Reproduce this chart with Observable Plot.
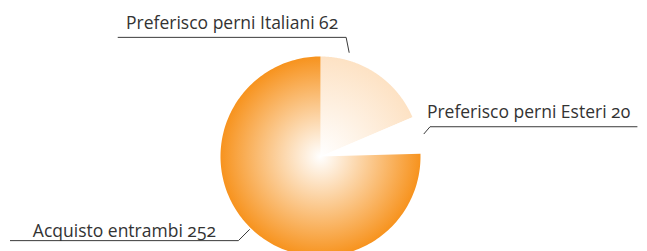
<!DOCTYPE html>
<html><head><meta charset="utf-8">
<script src="https://cdn.jsdelivr.net/npm/d3@7"></script>
<script src="https://cdn.jsdelivr.net/npm/@observablehq/plot@0.6"></script>
<style>body{margin:0;background:#fff}</style>
</head><body><div id="chart"></div>
<script>
// ---- data ----
const categories = ["Preferisco perni Italiani", "Preferisco perni Esteri", "Acquisto entrambi"];
const values = [62, 20, 252];
const edgeColors = ["#fde2c4", "#ffffff", "#f7931e"];

// ---- layout (label leaders) ----
const anchorFrac = [0.23, 0.5, 0.5];
const anchorR = [1.08, 1.06, 1.02];
const elbowPx = [[-3, -15], [6, -7], [-11, 11]];
const segPx = [-228, 207, -228];
const textDx = [0, -5, 0];
const textDy = [-8, -9, -4];

const W = 647, H = 251;
const unit = 100; // px per data unit (from domains below)
const xDomain = [-3.2, 3.27], yDomain = [-0.95, 1.56];

const pie = d3.pie().sort(null).value(d => d.value)(
  categories.map((c, i) => ({category: c, value: values[i], i})));

const N = 200;
const slices = pie.map((p, k) => {
  const pts = [{x: 0, y: 0}];
  for (let j = 0; j <= N; j++) {
    const a = p.startAngle + (p.endAngle - p.startAngle) * j / N;
    pts.push({x: Math.sin(a), y: Math.cos(a)});
  }
  pts.push({x: 0, y: 0});
  return pts;
});

const leaders = [], labels = [];
pie.forEach((p, k) => {
  const a = p.startAngle + (p.endAngle - p.startAngle) * anchorFrac[k];
  const ax = anchorR[k] * Math.sin(a), ay = anchorR[k] * Math.cos(a);
  const ex = ax + elbowPx[k][0] / unit, ey = ay - elbowPx[k][1] / unit;
  const fx = ex + segPx[k] / unit;
  leaders.push({k, x: ax, y: ay}, {k, x: ex, y: ey}, {k, x: fx, y: ey});
  labels.push({x: (ex + fx) / 2, y: ey, dx: textDx[k], dy: textDy[k], text: `${categories[k]} ${values[k]}`});
});

const chart = Plot.plot({
  width: W, height: H,
  margin: 0,
  x: {domain: xDomain, axis: null},
  y: {domain: yDomain, axis: null},
  style: {fontFamily: "'Open Sans', sans-serif", fontSize: "17.5px", color: "#333", background: "#fff"},
  marks: [
    ...slices.map((pts, k) => Plot.line(pts, {x: "x", y: "y", fill: `url(#grad${k})`, stroke: "none", curve: "linear"})),
    Plot.line(leaders, {x: "x", y: "y", z: "k", stroke: "#3a3a3a", strokeWidth: 1}),
    ...labels.map(l => Plot.text([l], {x: "x", y: "y", text: "text", dx: l.dx, dy: l.dy, lineAnchor: "bottom", textAnchor: "middle", fill: "#333"}))
  ]
});

const sx = chart.scale("x"), sy = chart.scale("y");
const cx = sx.apply(0), cy = sy.apply(0), r = sx.apply(1) - sx.apply(0);
const svg = d3.select(chart);
svg.selectAll("text").style("font-variant-numeric", "oldstyle-nums");
const defs = svg.insert("defs", ":first-child");
edgeColors.forEach((c, k) => {
  const g = defs.append("radialGradient").attr("id", `grad${k}`)
    .attr("gradientUnits", "userSpaceOnUse").attr("cx", cx).attr("cy", cy).attr("r", r);
  g.append("stop").attr("offset", 0).attr("stop-color", "#ffffff");
  g.append("stop").attr("offset", 1).attr("stop-color", c);
});
document.getElementById("chart").append(chart);
</script>
</body></html>
